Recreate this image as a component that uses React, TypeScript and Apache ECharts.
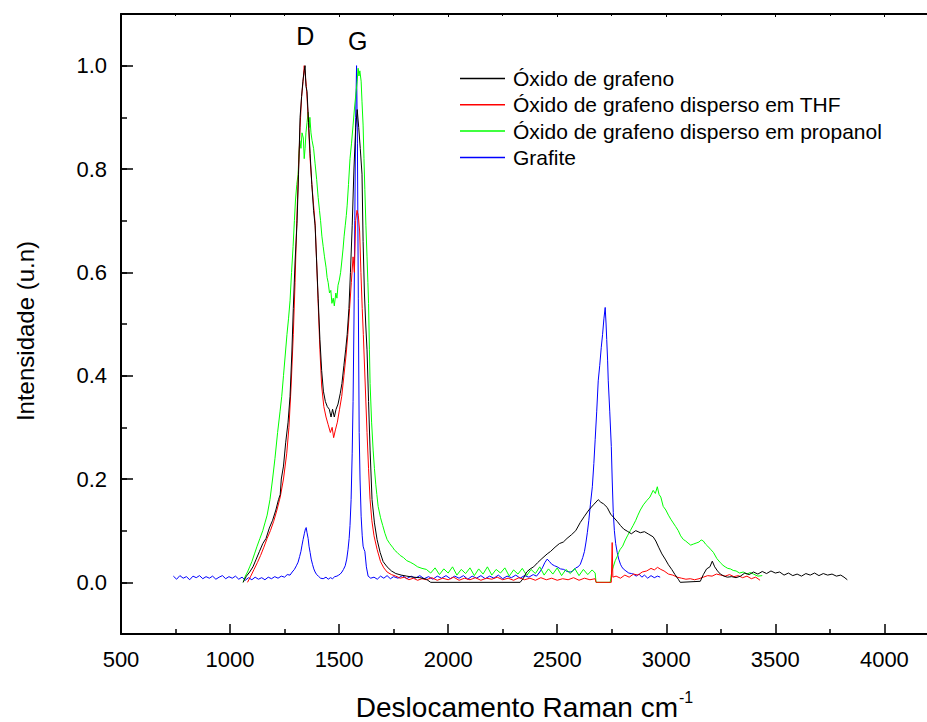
import React, { useEffect, useRef } from "react";
import * as echarts from "echarts";

const SERIES_NAMES = [
  "Óxido de grafeno",
  "Óxido de grafeno disperso em THF",
  "Óxido de grafeno disperso em propanol",
  "Grafite",
];
const SERIES_COLORS = ["#000000", "#ff0000", "#00ff00", "#0000ff"];
const PEAK_LABELS = ["D", "G"];
const PEAK_POS = [1345, 1585];
const X_TITLE = "Deslocamento Raman cm{sup|-1}";
const Y_TITLE = "Intensidade (u.n)";

const GO: [number, number][] = [
  [1060,0.0],[1075,0.012],[1090,0.02],[1105,0.03],[1120,0.045],[1135,0.06],[1150,0.075],[1165,0.085],[1180,0.105],[1195,0.12],[1210,0.14],[1222,0.16],[1230,0.17],[1235,0.2],[1245,0.225],[1255,0.27],[1266,0.31],[1275,0.36],[1283,0.44],[1290,0.53],[1298,0.62],[1307,0.695],[1314,0.79],[1321,0.9],[1328,0.94],[1334,0.97],[1340,0.99],[1344,1.0],[1348,0.96],[1353,0.95],[1360,0.89],[1367,0.83],[1375,0.77],[1383,0.72],[1390,0.69],[1397,0.62],[1404,0.55],[1412,0.47],[1420,0.41],[1428,0.37],[1437,0.35],[1446,0.34],[1455,0.335],[1463,0.32],[1470,0.335],[1478,0.32],[1486,0.335],[1495,0.345],[1505,0.365],[1513,0.385],[1522,0.42],[1530,0.45],[1537,0.48],[1545,0.53],[1552,0.6],[1560,0.69],[1568,0.8],[1576,0.88],[1583,0.915],[1590,0.88],[1597,0.84],[1605,0.79],[1610,0.66],[1616,0.56],[1622,0.5],[1628,0.45],[1635,0.35],[1642,0.256],[1651,0.16],[1662,0.115],[1674,0.083],[1688,0.058],[1702,0.04],[1720,0.03],[1740,0.022],[1760,0.017],[1785,0.014],[1810,0.012],[1840,0.01],[1870,0.009],[1900,0.006],[1920,0.0],[2330,0.0],[2345,0.008],[2360,0.02],[2376,0.026],[2392,0.03],[2410,0.038],[2430,0.046],[2454,0.055],[2470,0.06],[2490,0.068],[2510,0.075],[2528,0.078],[2545,0.085],[2565,0.092],[2585,0.1],[2606,0.116],[2625,0.128],[2645,0.14],[2666,0.15],[2688,0.16],[2700,0.155],[2712,0.152],[2729,0.145],[2745,0.132],[2760,0.125],[2775,0.118],[2790,0.11],[2805,0.103],[2821,0.099],[2840,0.094],[2860,0.1],[2881,0.096],[2900,0.098],[2920,0.093],[2940,0.088],[2952,0.08],[2965,0.068],[2980,0.055],[2995,0.045],[3010,0.034],[3025,0.025],[3040,0.015],[3055,0.006],[3064,0.0],[3156,0.002],[3170,0.015],[3185,0.026],[3200,0.03],[3211,0.041],[3222,0.03],[3235,0.022],[3248,0.016],[3265,0.012],[3280,0.01],[3300,0.011],[3320,0.009],[3340,0.012],[3360,0.018],[3380,0.015],[3400,0.02],[3420,0.016],[3440,0.021],[3460,0.017],[3480,0.022],[3500,0.018],[3520,0.02],[3540,0.014],[3560,0.018],[3580,0.013],[3600,0.016],[3620,0.012],[3640,0.017],[3660,0.014],[3680,0.018],[3700,0.013],[3720,0.017],[3740,0.014],[3760,0.016],[3780,0.012],[3800,0.014],[3815,0.01],[3830,0.005]
];

const THF: [number, number][] = [
  [1080,0.0],[1095,0.012],[1110,0.025],[1125,0.038],[1140,0.052],[1155,0.068],[1170,0.085],[1185,0.1],[1200,0.118],[1215,0.14],[1230,0.165],[1245,0.2],[1260,0.25],[1270,0.3],[1280,0.38],[1290,0.48],[1298,0.58],[1306,0.7],[1314,0.8],[1321,0.88],[1328,0.94],[1335,0.97],[1340,1.0],[1345,0.98],[1350,0.96],[1358,0.9],[1367,0.82],[1375,0.77],[1383,0.73],[1390,0.695],[1397,0.62],[1404,0.54],[1412,0.45],[1420,0.38],[1430,0.34],[1440,0.32],[1450,0.305],[1460,0.29],[1468,0.3],[1475,0.28],[1483,0.295],[1492,0.31],[1502,0.335],[1512,0.36],[1522,0.4],[1532,0.44],[1540,0.48],[1548,0.53],[1556,0.58],[1564,0.63],[1570,0.6],[1576,0.7],[1582,0.72],[1588,0.71],[1594,0.68],[1600,0.6],[1606,0.53],[1611,0.48],[1620,0.38],[1628,0.29],[1635,0.22],[1642,0.16],[1650,0.12],[1660,0.09],[1674,0.064],[1690,0.04],[1705,0.028],[1720,0.02],[1740,0.015],[1760,0.012],[1780,0.008],[1800,0.01],[1820,0.005],[1840,0.008],[1860,0.004],[1880,0.007],[1900,0.005],[1925,0.009],[1950,0.004],[1975,0.008],[2000,0.005],[2025,0.01],[2050,0.004],[2075,0.008],[2100,0.005],[2125,0.009],[2150,0.004],[2175,0.008],[2200,0.006],[2225,0.01],[2250,0.005],[2275,0.008],[2300,0.004],[2325,0.009],[2350,0.005],[2375,0.008],[2400,0.004],[2425,0.009],[2450,0.005],[2475,0.008],[2500,0.004],[2525,0.007],[2550,0.005],[2575,0.009],[2600,0.004],[2625,0.008],[2650,0.005],[2674,0.007],[2678,0.0],[2748,0.0],[2752,0.077],[2755,0.01],[2770,0.012],[2790,0.008],[2810,0.014],[2830,0.01],[2850,0.016],[2870,0.014],[2890,0.02],[2910,0.022],[2930,0.027],[2945,0.024],[2960,0.029],[2975,0.025],[2990,0.022],[3010,0.016],[3030,0.014],[3050,0.01],[3070,0.008],[3090,0.006],[3110,0.007],[3130,0.005],[3150,0.007],[3170,0.01],[3190,0.013],[3210,0.012],[3230,0.016],[3250,0.014],[3270,0.012],[3290,0.015],[3310,0.011],[3330,0.013],[3350,0.009],[3370,0.012],[3390,0.007],[3410,0.01],[3430,0.004]
];

const PROP: [number, number][] = [
  [1060,0.0],[1070,0.012],[1080,0.02],[1090,0.03],[1100,0.04],[1112,0.055],[1124,0.07],[1137,0.085],[1150,0.1],[1160,0.115],[1170,0.13],[1183,0.16],[1195,0.2],[1206,0.24],[1218,0.29],[1229,0.33],[1237,0.36],[1245,0.4],[1253,0.44],[1261,0.48],[1268,0.51],[1275,0.545],[1282,0.6],[1289,0.65],[1295,0.7],[1300,0.74],[1306,0.77],[1312,0.79],[1316,0.83],[1320,0.855],[1325,0.84],[1330,0.87],[1336,0.86],[1340,0.82],[1344,0.84],[1348,0.87],[1353,0.89],[1358,0.91],[1362,0.88],[1366,0.9],[1371,0.87],[1376,0.855],[1383,0.84],[1390,0.81],[1397,0.78],[1404,0.745],[1410,0.72],[1415,0.7],[1421,0.67],[1427,0.65],[1433,0.63],[1440,0.61],[1445,0.59],[1450,0.58],[1456,0.56],[1462,0.565],[1467,0.54],[1473,0.55],[1478,0.535],[1485,0.56],[1490,0.55],[1495,0.575],[1501,0.585],[1507,0.6],[1512,0.62],[1518,0.645],[1523,0.67],[1528,0.69],[1533,0.71],[1537,0.73],[1543,0.77],[1550,0.82],[1557,0.85],[1564,0.885],[1571,0.92],[1578,0.95],[1583,0.97],[1587,0.995],[1591,0.98],[1595,0.99],[1601,0.97],[1605,0.93],[1610,0.885],[1614,0.82],[1618,0.76],[1623,0.69],[1628,0.63],[1632,0.58],[1635,0.54],[1639,0.45],[1642,0.385],[1649,0.31],[1656,0.256],[1662,0.22],[1668,0.19],[1673,0.17],[1679,0.147],[1690,0.125],[1700,0.11],[1710,0.095],[1720,0.083],[1732,0.075],[1745,0.068],[1755,0.062],[1766,0.058],[1780,0.052],[1795,0.048],[1810,0.042],[1826,0.039],[1843,0.035],[1860,0.03],[1880,0.027],[1900,0.025],[1920,0.018],[1940,0.028],[1960,0.015],[1980,0.026],[2000,0.018],[2020,0.03],[2040,0.014],[2060,0.025],[2080,0.017],[2100,0.028],[2120,0.013],[2140,0.026],[2160,0.016],[2180,0.03],[2200,0.014],[2220,0.025],[2240,0.018],[2260,0.028],[2280,0.012],[2300,0.024],[2320,0.016],[2340,0.027],[2360,0.013],[2380,0.025],[2400,0.017],[2420,0.03],[2440,0.014],[2460,0.026],[2480,0.016],[2500,0.028],[2520,0.013],[2540,0.025],[2560,0.017],[2580,0.027],[2600,0.013],[2620,0.025],[2640,0.015],[2660,0.024],[2674,0.018],[2678,0.0],[2743,0.0],[2750,0.02],[2757,0.03],[2766,0.042],[2775,0.05],[2782,0.058],[2789,0.064],[2800,0.07],[2810,0.08],[2822,0.09],[2835,0.1],[2848,0.11],[2860,0.12],[2870,0.13],[2881,0.14],[2895,0.15],[2910,0.158],[2925,0.165],[2940,0.178],[2950,0.172],[2959,0.185],[2967,0.17],[2975,0.165],[2986,0.147],[2998,0.14],[3010,0.13],[3021,0.122],[3032,0.115],[3043,0.108],[3055,0.1],[3066,0.09],[3078,0.083],[3089,0.08],[3100,0.076],[3112,0.072],[3124,0.074],[3137,0.076],[3150,0.078],[3160,0.082],[3170,0.08],[3180,0.074],[3190,0.07],[3203,0.064],[3216,0.058],[3232,0.046],[3248,0.038],[3260,0.033],[3270,0.03],[3282,0.027],[3294,0.026],[3307,0.023],[3320,0.022],[3336,0.018],[3353,0.02],[3370,0.016],[3385,0.019],[3400,0.016],[3420,0.012],[3440,0.013]
];

const GRAF: [number, number][] = [
  [740,0.012],[755,0.006],[770,0.013],[785,0.008],[800,0.011],[815,0.005],[830,0.012],[845,0.009],[860,0.013],[875,0.007],[890,0.011],[905,0.008],[920,0.012],[935,0.006],[950,0.01],[965,0.013],[980,0.007],[995,0.011],[1010,0.008],[1025,0.012],[1040,0.006],[1055,0.01],[1070,0.004],[1085,0.009],[1100,0.005],[1115,0.01],[1130,0.006],[1145,0.009],[1160,0.005],[1175,0.01],[1190,0.007],[1205,0.011],[1220,0.008],[1235,0.012],[1250,0.01],[1262,0.015],[1275,0.014],[1285,0.02],[1295,0.025],[1304,0.032],[1312,0.039],[1319,0.05],[1325,0.06],[1330,0.072],[1335,0.083],[1341,0.095],[1346,0.104],[1349,0.106],[1353,0.096],[1358,0.085],[1362,0.07],[1367,0.058],[1372,0.045],[1378,0.035],[1384,0.026],[1390,0.02],[1397,0.015],[1405,0.012],[1415,0.008],[1427,0.007],[1440,0.01],[1450,0.006],[1460,0.009],[1470,0.007],[1480,0.011],[1490,0.012],[1498,0.014],[1505,0.016],[1513,0.02],[1520,0.025],[1528,0.032],[1535,0.045],[1541,0.064],[1546,0.085],[1550,0.11],[1555,0.16],[1560,0.25],[1564,0.35],[1568,0.5],[1572,0.7],[1576,0.9],[1580,1.0],[1584,0.85],[1588,0.55],[1592,0.29],[1596,0.2],[1601,0.128],[1606,0.09],[1610,0.07],[1614,0.064],[1618,0.06],[1625,0.03],[1633,0.012],[1645,0.008],[1660,0.01],[1675,0.006],[1690,0.012],[1705,0.008],[1720,0.013],[1735,0.007],[1750,0.011],[1770,0.008],[1790,0.013],[1810,0.007],[1830,0.012],[1850,0.008],[1870,0.013],[1890,0.007],[1910,0.011],[1930,0.006],[1950,0.012],[1970,0.008],[1990,0.013],[2010,0.007],[2030,0.012],[2050,0.008],[2070,0.013],[2090,0.006],[2110,0.012],[2130,0.008],[2150,0.013],[2170,0.007],[2190,0.012],[2210,0.008],[2230,0.014],[2250,0.007],[2270,0.012],[2290,0.009],[2310,0.014],[2330,0.008],[2350,0.013],[2370,0.01],[2390,0.015],[2405,0.012],[2420,0.02],[2432,0.028],[2443,0.038],[2454,0.045],[2465,0.04],[2475,0.035],[2488,0.032],[2500,0.03],[2515,0.026],[2530,0.025],[2545,0.021],[2560,0.02],[2572,0.022],[2585,0.028],[2596,0.03],[2606,0.035],[2617,0.048],[2625,0.06],[2632,0.078],[2638,0.096],[2645,0.12],[2652,0.15],[2661,0.185],[2668,0.23],[2674,0.276],[2681,0.33],[2688,0.39],[2695,0.42],[2702,0.455],[2708,0.48],[2714,0.51],[2720,0.532],[2724,0.5],[2727,0.47],[2731,0.43],[2734,0.39],[2741,0.33],[2748,0.263],[2752,0.2],[2757,0.135],[2762,0.1],[2768,0.075],[2775,0.058],[2782,0.045],[2790,0.035],[2796,0.03],[2803,0.026],[2815,0.022],[2828,0.018],[2840,0.017],[2849,0.016],[2862,0.012],[2875,0.016],[2888,0.01],[2900,0.014],[2915,0.008],[2930,0.013],[2945,0.009],[2960,0.012],[2972,0.01]
];

const X_MIN = 500;
const X_MAX = 4200;
const X_STEP = 500;
const X_LABEL_MAX = 4000;
const Y_MIN = -0.1;
const Y_MAX = 1.1;
const Y_LABEL_MIN = 0;
const Y_LABEL_MAX = 1;
const Y_LABEL_STEP = 0.2;

const FONT = "'Liberation Sans', Arial, sans-serif";

export default function App() {
  const ref = useRef<HTMLDivElement>(null);
  useEffect(() => {
    if (!ref.current) return;
    const chart = echarts.init(ref.current, undefined, { renderer: "svg" });
    const left = 121;
    const top = 14;
    const plotRight = 928;
    const plotBottom = 634;
    const plotH = plotBottom - top;
    const pxPerUnit = plotH / (Y_MAX - Y_MIN);
    const g2Top = top + (Y_MAX - Y_LABEL_MAX) * pxPerUnit;
    const g2H = (Y_LABEL_MAX - Y_LABEL_MIN) * pxPerUnit;
    const datasets = [GO, THF, PROP, GRAF];
    const xToPx = (v: number) => left + ((v - X_MIN) / (X_MAX - X_MIN)) * (plotRight - left);

    chart.setOption({
      animation: false,
      backgroundColor: "#ffffff",
      textStyle: { fontFamily: FONT },
      grid: [
        { left, top, width: plotRight - left, height: plotH, outerBoundsMode: "none", containLabel: false },
        { left, top: g2Top, width: plotRight - left, height: g2H, outerBoundsMode: "none", containLabel: false },
      ],
      xAxis: [
        {
          type: "value", gridIndex: 0, position: "bottom", min: X_MIN, max: X_MAX, interval: X_STEP,
          splitLine: { show: false },
          axisLine: { show: true, onZero: false, lineStyle: { color: "#000", width: 2 } },
          axisTick: { show: true, inside: true, length: 10, lineStyle: { color: "#000", width: 1.5 } },
          minorTick: { show: true, splitNumber: 2, length: 5, lineStyle: { color: "#000", width: 1.5 } },
          axisLabel: {
            margin: 14, color: "#000", fontSize: 22, fontFamily: FONT,
            formatter: (v: number) => (v % X_STEP === 0 && v <= X_LABEL_MAX ? String(v) : ""),
          },
          name: X_TITLE,
          nameLocation: "middle",
          nameGap: 55,
          nameTextStyle: {
            fontSize: 28, color: "#000", fontFamily: FONT,
            rich: { sup: { fontSize: 16, verticalAlign: "top", padding: [0, 0, 20, 1], color: "#000", fontFamily: FONT } },
          },
        },
        {
          type: "value", gridIndex: 0, position: "top", min: X_MIN, max: X_MAX, interval: X_STEP,
          splitLine: { show: false },
          axisLine: { show: true, onZero: false, lineStyle: { color: "#000", width: 2 } },
          axisTick: { show: true, inside: true, length: 3, lineStyle: { color: "#000", width: 1 } },
          minorTick: { show: true, splitNumber: 2, length: 2, lineStyle: { color: "#000", width: 1 } },
          axisLabel: { show: false },
        },
        { type: "value", gridIndex: 1, show: false, min: X_MIN, max: X_MAX },
      ],
      yAxis: [
        {
          type: "value", gridIndex: 0, position: "left", min: Y_MIN, max: Y_MAX, interval: 0.1,
          splitLine: { show: false },
          axisLine: { show: true, onZero: false, lineStyle: { color: "#000", width: 2 } },
          axisTick: { show: true, inside: true, length: 6, lineStyle: { color: "#000", width: 1.5 } },
          axisLabel: { show: false },
        },
        {
          type: "value", gridIndex: 1, position: "left", min: Y_LABEL_MIN, max: Y_LABEL_MAX, interval: Y_LABEL_STEP,
          splitLine: { show: false },
          axisLine: { show: false },
          axisTick: { show: true, inside: true, length: 12, lineStyle: { color: "#000", width: 1.5 } },
          axisLabel: { margin: 14, color: "#000", fontSize: 22, fontFamily: FONT, formatter: (v: number) => v.toFixed(1) },
        },
      ],
      legend: {
        show: true,
        orient: "vertical",
        left: 455,
        top: 63,
        icon: "rect",
        itemWidth: 45,
        itemHeight: 1.5,
        itemGap: 5.3,
        data: SERIES_NAMES,
        textStyle: { fontSize: 21, color: "#000", fontFamily: FONT, padding: [0, 0, 0, 3] },
      },
      graphic: [
        ...PEAK_LABELS.map((t, i) => ({
          type: "text",
          x: xToPx(PEAK_POS[i]),
          y: i === 0 ? 36 : 41,
          style: { text: t, fontSize: 25, fill: "#000", fontFamily: FONT, align: "center", verticalAlign: "middle" },
        })),
        {
          type: "text",
          x: 25,
          y: 331,
          rotation: Math.PI / 2,
          style: { text: Y_TITLE, fontSize: 24, fill: "#000", fontFamily: FONT, align: "center", verticalAlign: "middle" },
        },
      ],
      series: datasets.map((d, i) => ({
        type: "line",
        name: SERIES_NAMES[i],
        xAxisIndex: 0,
        yAxisIndex: 0,
        data: d,
        symbol: "none",
        showSymbol: false,
        smooth: false,
        lineStyle: { color: SERIES_COLORS[i], width: 1 },
        itemStyle: { color: SERIES_COLORS[i] },
        z: 2 + (3 - i),
      })),
    });
    return () => chart.dispose();
  }, []);
  return (
    <div style={{ position: "fixed", left: 0, top: 0, width: 927, height: 722, overflow: "hidden", background: "#fff" }}>
      <div ref={ref} style={{ width: 940, height: 722 }} />
    </div>
  );
}
